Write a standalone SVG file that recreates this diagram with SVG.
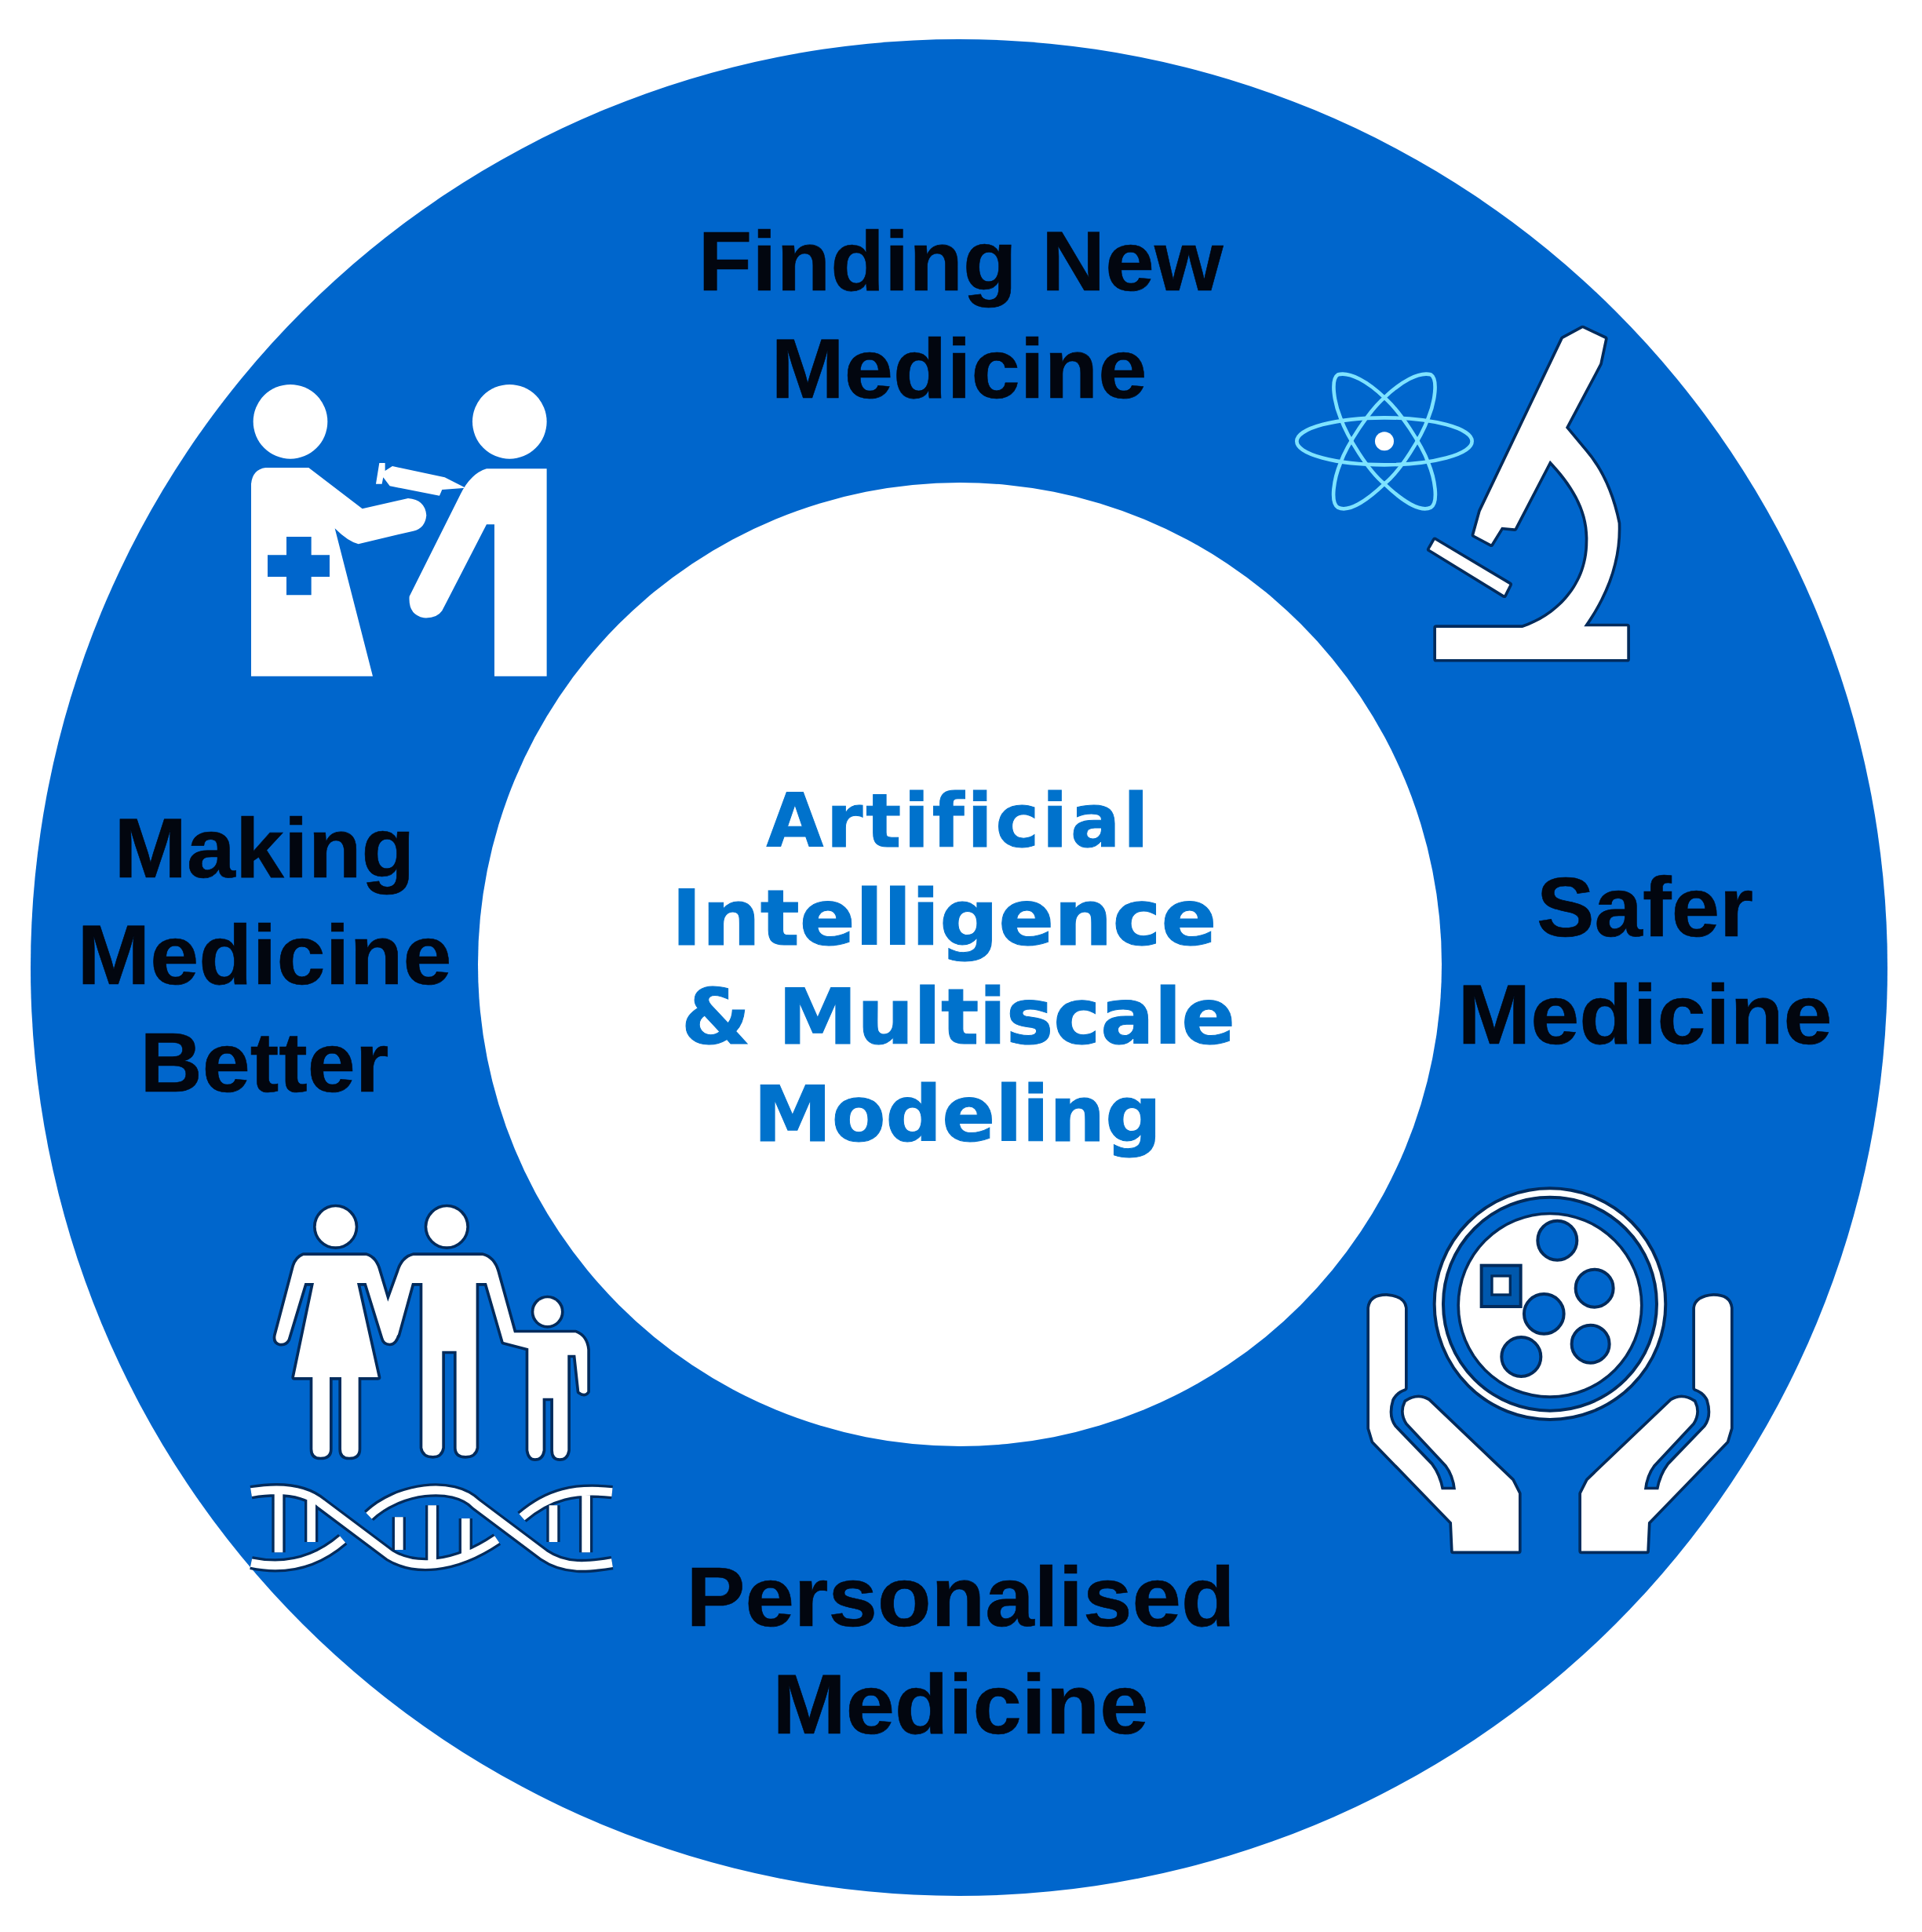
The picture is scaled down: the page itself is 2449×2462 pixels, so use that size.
<svg xmlns="http://www.w3.org/2000/svg" xmlns:xlink="http://www.w3.org/1999/xlink" width="2449" height="2462" viewBox="0 0 2449 2462">
<style>
.lbl{font-family:"Liberation Sans",Arial,sans-serif;font-weight:700;font-size:108px;fill:#02060f;stroke:#02060f;stroke-width:.6;text-anchor:middle;font-variant-ligatures:none}
.core{font-family:"DejaVu Sans",Verdana,sans-serif;font-weight:700;font-size:98px;fill:#0072cc;stroke:#0072cc;stroke-width:1;text-anchor:middle;font-variant-ligatures:none}
.w{fill:#fff}
.wo{fill:#fff;stroke:#012b5c;stroke-width:22;paint-order:stroke;stroke-linejoin:round}
.hole{fill:#0066cc;stroke:#012b5c;stroke-width:12}
.atom{fill:none;stroke:#7ee3ff;stroke-width:14}
.blue{fill:#0066cc}
</style>
<defs>
<path id="dna" fill="none" stroke-linecap="butt" d="M60,1145C150,1130 260,1130 330,1190L590,1385C680,1440 830,1440 1000,1325M510,1235C620,1130 830,1100 920,1190L1180,1385C1260,1440 1350,1430 1440,1415M60,1415C180,1440 300,1420 410,1325M1095,1240C1200,1150 1300,1130 1440,1145M165,1145V1375M290,1165V1335M625,1240V1365M752,1195V1415M880,1245V1385M1215,1195V1335M1340,1140V1375"/>
<path id="hand" class="wo" d="M75,530Q80,485 140,485Q205,490 210,530V838Q175,850 160,880Q140,945 170,985L310,1130Q340,1170 350,1225H405Q400,1170 370,1130L220,970Q195,930 215,890Q260,860 300,885L620,1190L645,1240V1460H395L390,1350L90,1040L75,990Z"/>
<path id="orbit" class="atom" d="M432,350C370,290 300,250 255,262C225,280 240,370 265,430C290,500 370,630 432,680C500,745 570,790 610,770C640,750 625,660 600,600C575,530 490,400 432,350Z"/>
</defs>
<rect width="2449" height="2462" fill="#fff"/>
<g id="ring"><circle cx="1222" cy="1233" r="1183" class="blue"/><circle cx="1223" cy="1229" r="614" class="w"/></g>
<g id="connectors"></g>
<g id="center-node">
<text class="core" x="1220" y="1079" font-size="94" style="font-size:94px" textLength="487" lengthAdjust="spacing">Artificial</text>
<text class="core" x="1203" y="1204" textLength="695" lengthAdjust="spacingAndGlyphs">Intelligence</text>
<text class="core" x="1221" y="1330" textLength="706" lengthAdjust="spacingAndGlyphs">&amp; Multiscale</text>
<text class="core" x="1220" y="1454" textLength="520" lengthAdjust="spacingAndGlyphs">Modeling</text>
</g>
<g id="finding-new-medicine">
<text class="lbl" x="1224" y="370" textLength="669" lengthAdjust="spacingAndGlyphs">Finding New</text>
<text class="lbl" x="1222" y="507" textLength="479" lengthAdjust="spacingAndGlyphs">Medicine</text>
<g transform="translate(1620,390) scale(.3333)">
<ellipse class="atom" cx="432" cy="517" rx="335" ry="90"/>
<use xlink:href="#orbit"/>
<use xlink:href="#orbit" transform="translate(864,0) scale(-1,1)"/>
<circle cx="432" cy="517" r="36" class="w"/>
<path class="wo" d="M1190,85L1275,125L1255,220L1125,465L1200,555Q1290,660 1325,830C1330,960 1290,1090 1195,1225H1360V1350H630V1230H960C1080,1190 1210,1080 1210,900C1215,780 1150,680 1065,590L930,850L880,845L840,910L775,875L800,785L1115,125Z"/>
<path class="wo" d="M625,895L910,1065L890,1105L605,930Z"/>
</g>
</g>
<g id="safer-medicine">
<text class="lbl" x="2096" y="1193" textLength="276" lengthAdjust="spacingAndGlyphs">Safer</text>
<text class="lbl" x="2096" y="1330" textLength="477" lengthAdjust="spacingAndGlyphs">Medicine</text>
<g transform="translate(1720,1490) scale(.3333)">
<circle cx="765" cy="515" r="425" fill="none" stroke="#012b5c" stroke-width="46"/>
<circle cx="765" cy="515" r="425" fill="none" stroke="#fff" stroke-width="22"/>
<circle class="wo" cx="765" cy="520" r="345"/>
<circle class="hole" cx="793" cy="272" r="75"/>
<circle class="hole" cx="935" cy="455" r="72"/>
<circle class="hole" cx="742" cy="553" r="76"/>
<circle class="hole" cx="920" cy="668" r="72"/>
<circle class="hole" cx="655" cy="717" r="75"/>
<rect x="503" y="368" width="150" height="157" fill="#0058ad" stroke="#012b5c" stroke-width="12"/>
<rect x="543" y="408" width="70" height="72" fill="#fff" stroke="#012b5c" stroke-width="10"/>
<use xlink:href="#hand"/>
<use xlink:href="#hand" transform="translate(1530,0) scale(-1,1)"/>
</g>
</g>
<g id="personalised-medicine">
<text class="lbl" x="1224" y="2072" textLength="699" lengthAdjust="spacingAndGlyphs">Personalised</text>
<text class="lbl" x="1224" y="2209" textLength="479" lengthAdjust="spacingAndGlyphs">Medicine</text>
<g transform="translate(300,1520) scale(.3333)">
<circle class="wo" cx="383" cy="130" r="75"/>
<circle class="wo" cx="808" cy="130" r="75"/>
<circle class="wo" cx="1193" cy="455" r="52"/>
<path class="wo" d="M260,240H500Q535,250 548,300L620,540Q610,575 590,575Q570,575 565,555L500,345H465L545,705H470V980Q470,1010 435,1010Q405,1010 405,980V705H360V980Q360,1010 325,1010Q295,1010 295,980V705H225L300,345H265L200,560Q190,578 170,575Q150,570 155,545L225,280Q235,250 260,240ZM680,240H945Q985,250 1000,300L1065,535H1300Q1340,550 1345,600V760Q1335,775 1315,760L1300,620H1270V985Q1265,1015 1240,1015Q1215,1015 1215,985V785H1175V985Q1170,1015 1145,1015Q1125,1015 1120,985V595L1025,570L960,345H920V975Q915,1005 880,1005Q845,1005 845,975V605H790V975Q785,1005 755,1005Q720,1005 715,975V345H675L620,545L578,430L625,300Q640,250 680,240Z"/>
<use xlink:href="#dna" stroke="#012b5c" stroke-width="52"/>
<use xlink:href="#dna" stroke="#fff" stroke-width="32"/>
</g>
</g>
<g id="making-medicine-better">
<text class="lbl" x="337" y="1118" textLength="383" lengthAdjust="spacingAndGlyphs">Making</text>
<text class="lbl" x="337" y="1254" textLength="477" lengthAdjust="spacingAndGlyphs">Medicine</text>
<text class="lbl" x="337" y="1391" textLength="317" lengthAdjust="spacingAndGlyphs">Better</text>
<g transform="translate(280,460) scale(.3333)">
<circle cx="270" cy="232" r="142" class="w"/>
<circle cx="1108" cy="232" r="142" class="w"/>
<path class="w" d="M120,1205V470Q125,415 175,408H340L545,565L720,525Q785,530 790,590Q785,640 740,650L530,700Q490,690 440,640L585,1205Z"/>
<path class="blue" d="M255,672H350V742H420V825H350V895H255V825H183V742H255Z"/>
<path class="w" d="M1250,412V1205H1050V625H1020L850,955Q830,985 780,982Q720,970 725,900L920,510Q960,430 1020,412Z"/>
<path class="w" d="M610,390H632V420L660,402L860,445L940,485L850,492L840,515L650,478L625,445L620,470H597Z"/>
</g>
</g>
</svg>
